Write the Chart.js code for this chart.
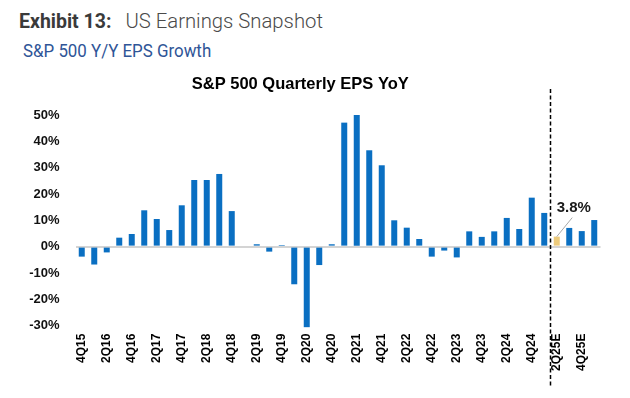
<!DOCTYPE html>
<html><head><meta charset="utf-8">
<script src="https://cdn.jsdelivr.net/npm/chart.js@4"></script>
<style>
html,body{margin:0;padding:0;background:#fff;}
#wrap{position:relative;width:630px;height:398px;overflow:hidden;}
#h1{position:absolute;left:19px;top:8.5px;font-family:Roboto;font-size:19.5px;color:#3a3a3a;white-space:nowrap;line-height:24px;}
#h1 b{font-weight:700;}
#h1 span{font-weight:300;font-size:20.3px;color:#4a4a4a;margin-left:14px}
#h2{position:absolute;left:23px;top:40px;font-family:Roboto;font-size:18.5px;color:#2f5597;white-space:nowrap;line-height:22px;transform:scaleX(0.913);transform-origin:0 0;}
canvas{position:absolute;left:0;top:0;}
</style></head>
<body><div id="wrap">
<div id="h1"><b>Exhibit 13:</b><span>US Earnings Snapshot</span></div>
<div id="h2">S&amp;P 500 Y/Y EPS Growth</div>
<canvas id="c" width="630" height="398"></canvas>
</div>
<script>
const chartTitle = 'S&P 500 Quarterly EPS YoY';
const categories = ['4Q15',
  '1Q16','2Q16','3Q16','4Q16',
  '1Q17','2Q17','3Q17','4Q17',
  '1Q18','2Q18','3Q18','4Q18',
  '1Q19','2Q19','3Q19','4Q19',
  '1Q20','2Q20','3Q20','4Q20',
  '1Q21','2Q21','3Q21','4Q21',
  '1Q22','2Q22','3Q22','4Q22',
  '1Q23','2Q23','3Q23','4Q23',
  '1Q24','2Q24','3Q24','4Q24',
  '1Q25','2Q25E','3Q25E','4Q25E','1Q26E'];
const epsGrowth = [-3.8,
  -6.8,-2.2,3.4,4.8,
  13.8,10.5,6.3,15.7,
  25.3,25.3,27.6,13.5,
  0.0,0.9,-1.9,0.6,
  -14.3,-30.6,-7.0,0.9,
  47.1,50.0,36.6,30.9,
  10.0,7.2,2.9,-3.8,
  -1.5,-4.1,5.8,3.7,
  5.8,10.9,6.7,18.6,
  12.8,3.8,7.1,5.9,10.1];
const estimateStart = '2Q25E';
const yTicks = [-30,-20,-10,0,10,20,30,40,50];

const BLUE = '#0A6FC2', GOLD = '#EDCB7C';
const barColors = categories.map(c => c === estimateStart ? GOLD : BLUE);
const FONT = '"Liberation Sans", Arial, sans-serif';

const extras = {
  id: 'extras',
  afterDatasetsDraw(chart) {
    const {ctx, chartArea, scales: {x}} = chart;
    const i = categories.indexOf(estimateStart);
    const xd = (x.getPixelForValue(i - 1) + x.getPixelForValue(i)) / 2;
    ctx.save();
    ctx.strokeStyle = '#000'; ctx.lineWidth = 1.5; ctx.setLineDash([4, 2.5]);
    ctx.beginPath();
    ctx.moveTo(xd, chartArea.top - 26);
    ctx.lineTo(xd, chartArea.bottom + 60);
    ctx.stroke();
    const bar = chart.getDatasetMeta(0).data[i];
    ctx.setLineDash([]);
    ctx.strokeStyle = '#a8a8a8'; ctx.lineWidth = 1;
    ctx.beginPath();
    ctx.moveTo(bar.x, bar.y);
    ctx.lineTo(bar.x + 15.5, bar.y - 19);
    ctx.stroke();
    ctx.fillStyle = '#1a1a1a';
    ctx.font = 'bold 15px ' + FONT;
    ctx.textBaseline = 'alphabetic';
    ctx.textAlign = 'left';
    ctx.fillText(epsGrowth[i].toFixed(1) + '%', bar.x, bar.y - 24.4);
    ctx.restore();
  }
};

new Chart(document.getElementById('c'), {
  type: 'bar',
  data: {
    labels: categories,
    datasets: [{
      data: epsGrowth,
      backgroundColor: barColors,
      borderWidth: 0,
      barPercentage: 0.48,
      categoryPercentage: 1,
      clip: false
    }]
  },
  options: {
    responsive: false,
    animation: false,
    devicePixelRatio: 1,
    layout: {padding: {left: 0, right: 29.5, top: 0, bottom: 0}},
    plugins: {
      legend: {display: false},
      tooltip: {enabled: false},
      title: {
        display: true,
        text: chartTitle,
        color: '#000',
        font: {family: FONT, size: 16.5, weight: 'bold', lineHeight: 1.2},
        padding: {top: 74.5, bottom: 20.7}
      }
    },
    scales: {
      x: {
        grid: {display: false, drawTicks: false},
        border: {display: false},
        ticks: {
          autoSkip: false, maxRotation: 90, minRotation: 90, padding: 8,
          color: '#000', font: {family: FONT, size: 12, weight: 'bold'},
          callback: (v, i) => i % 2 === 0 ? categories[i] : ''
        },
        afterFit: s => { s.height = 72.4; }
      },
      y: {
        min: -30, max: 50,
        grid: {
          drawTicks: false,
          color: c => c.tick && c.tick.value === 0 ? '#d4d4d4' : 'rgba(0,0,0,0)',
          lineWidth: c => c.tick && c.tick.value === 0 ? 2 : 0
        },
        border: {display: false},
        afterBuildTicks: s => { s.ticks = yTicks.map(v => ({value: v})); },
        ticks: {
          padding: 16, color: '#111',
          font: {family: FONT, size: 13, weight: 'bold'},
          callback: v => v + '%'
        },
        afterFit: s => { s.width = 75.5; }
      }
    }
  },
  plugins: [extras]
});
</script>
</body></html>
